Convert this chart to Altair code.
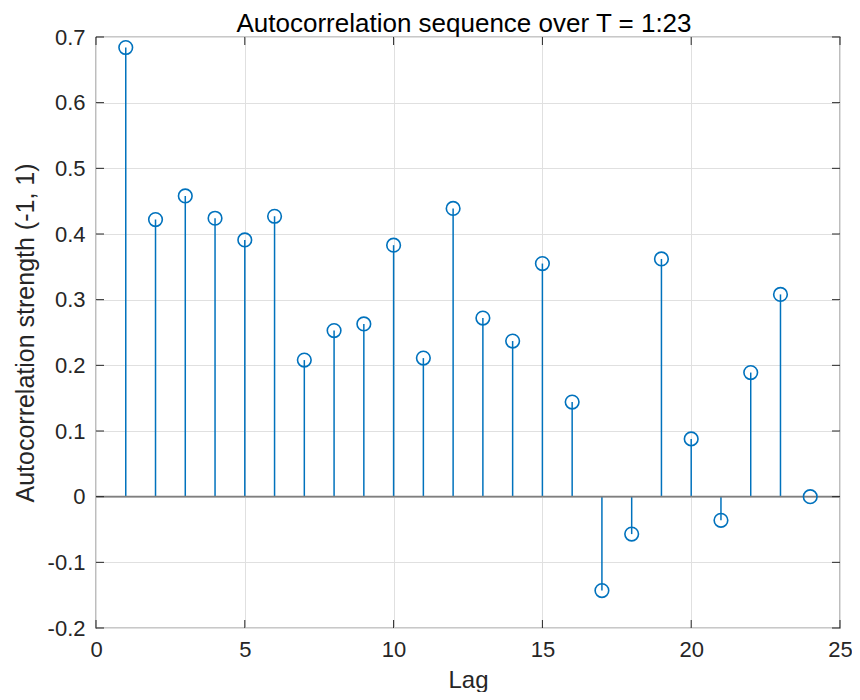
import altair as alt
import pandas as pd

# ---- data ----
lags = list(range(1, 25))
acf = [0.684, 0.422, 0.458, 0.424, 0.391, 0.427, 0.208, 0.253, 0.263, 0.383,
       0.211, 0.439, 0.272, 0.237, 0.355, 0.144, -0.143, -0.057, 0.362, 0.088,
       -0.036, 0.189, 0.308, 0.0]
x_ticks = [0, 5, 10, 15, 20, 25]
y_ticks = [-0.2, -0.1, 0, 0.1, 0.2, 0.3, 0.4, 0.5, 0.6, 0.7]
title_text = ["Autocorrelation sequence over T = 1:23"]

W, H = 744, 591
FONT = "Liberation Sans"
BLUE = "#0072BD"
AX = "#262626"

df = pd.DataFrame({"lag": lags, "value": acf})
xt = pd.DataFrame({"t": x_ticks})
yt = pd.DataFrame({"t": y_ticks})
zero = pd.DataFrame({"z": [0]})
tdf = pd.DataFrame({"title": title_text})

xs = alt.Scale(domain=[0, 25], nice=False, zero=False)
ys = alt.Scale(domain=[-0.2, 0.7], nice=False, zero=False)

xaxis = alt.Axis(values=x_ticks, grid=True, gridColor="#e0e0e0", gridWidth=1,
                 domain=False, ticks=False, labelFlush=False,
                 labelFont=FONT, labelFontSize=22, labelColor=AX, labelPadding=11,
                 title="Lag", titleFont=FONT, titleFontSize=24, titleFontWeight="normal",
                 titleColor=AX, titleY=59, titleBaseline="alphabetic")
yaxis = alt.Axis(values=y_ticks, grid=True, gridColor="#e0e0e0", gridWidth=1,
                 domain=False, ticks=False, labelFlush=False,
                 labelExpr="datum.value + ''",
                 labelFont=FONT, labelFontSize=22, labelColor=AX, labelPadding=11,
                 title="Autocorrelation strength (-1, 1)", titleFont=FONT,
                 titleFontSize=25, titleFontWeight="normal", titleColor=AX,
                 titleX=-63, titleBaseline="alphabetic")

X = alt.X("lag:Q", scale=xs, axis=xaxis)
Y = alt.Y("value:Q", scale=ys, axis=yaxis)

stems = alt.Chart(df).mark_rule(color=BLUE, strokeWidth=1.5).encode(
    x=X, y=Y, y2=alt.datum(0))
baseline = alt.Chart(zero).mark_rule(color="#7f7f7f", strokeWidth=1.6).encode(
    y=alt.Y("z:Q", scale=ys, axis=yaxis))
points = alt.Chart(df).mark_point(shape="circle", filled=False, size=185,
                                  strokeWidth=1.6, color=BLUE, opacity=1).encode(
    x=X, y=Y)

tick_len = 8
xt_bottom = alt.Chart(xt).mark_rule(color=AX, strokeWidth=1).encode(
    x=alt.X("t:Q", scale=xs, axis=xaxis), y=alt.value(H), y2=alt.value(H - tick_len))
xt_top = alt.Chart(xt).mark_rule(color=AX, strokeWidth=1).encode(
    x=alt.X("t:Q", scale=xs, axis=xaxis), y=alt.value(0), y2=alt.value(tick_len))
yt_left = alt.Chart(yt).mark_rule(color=AX, strokeWidth=1).encode(
    y=alt.Y("t:Q", scale=ys, axis=yaxis), x=alt.value(0), x2=alt.value(tick_len))
yt_right = alt.Chart(yt).mark_rule(color=AX, strokeWidth=1).encode(
    y=alt.Y("t:Q", scale=ys, axis=yaxis), x=alt.value(W), x2=alt.value(W - tick_len))

title = alt.Chart(tdf).mark_text(font=FONT, fontSize=26, color="#000000",
                                 align="center", baseline="alphabetic").encode(
    text="title:N", x=alt.value(W / 2 - 4), y=alt.value(-5.5))

chart = alt.layer(stems, baseline, points, xt_bottom, xt_top, yt_left, yt_right,
                  title).properties(
    width=W, height=H,
    autosize=alt.AutoSizeParams(type="none"),
    padding={"left": 88, "top": 29, "right": 12, "bottom": 64},
    background="white",
).configure_view(stroke=AX, strokeWidth=1.2)

chart.save("out.html", embed_options={"renderer": "svg", "actions": False})
